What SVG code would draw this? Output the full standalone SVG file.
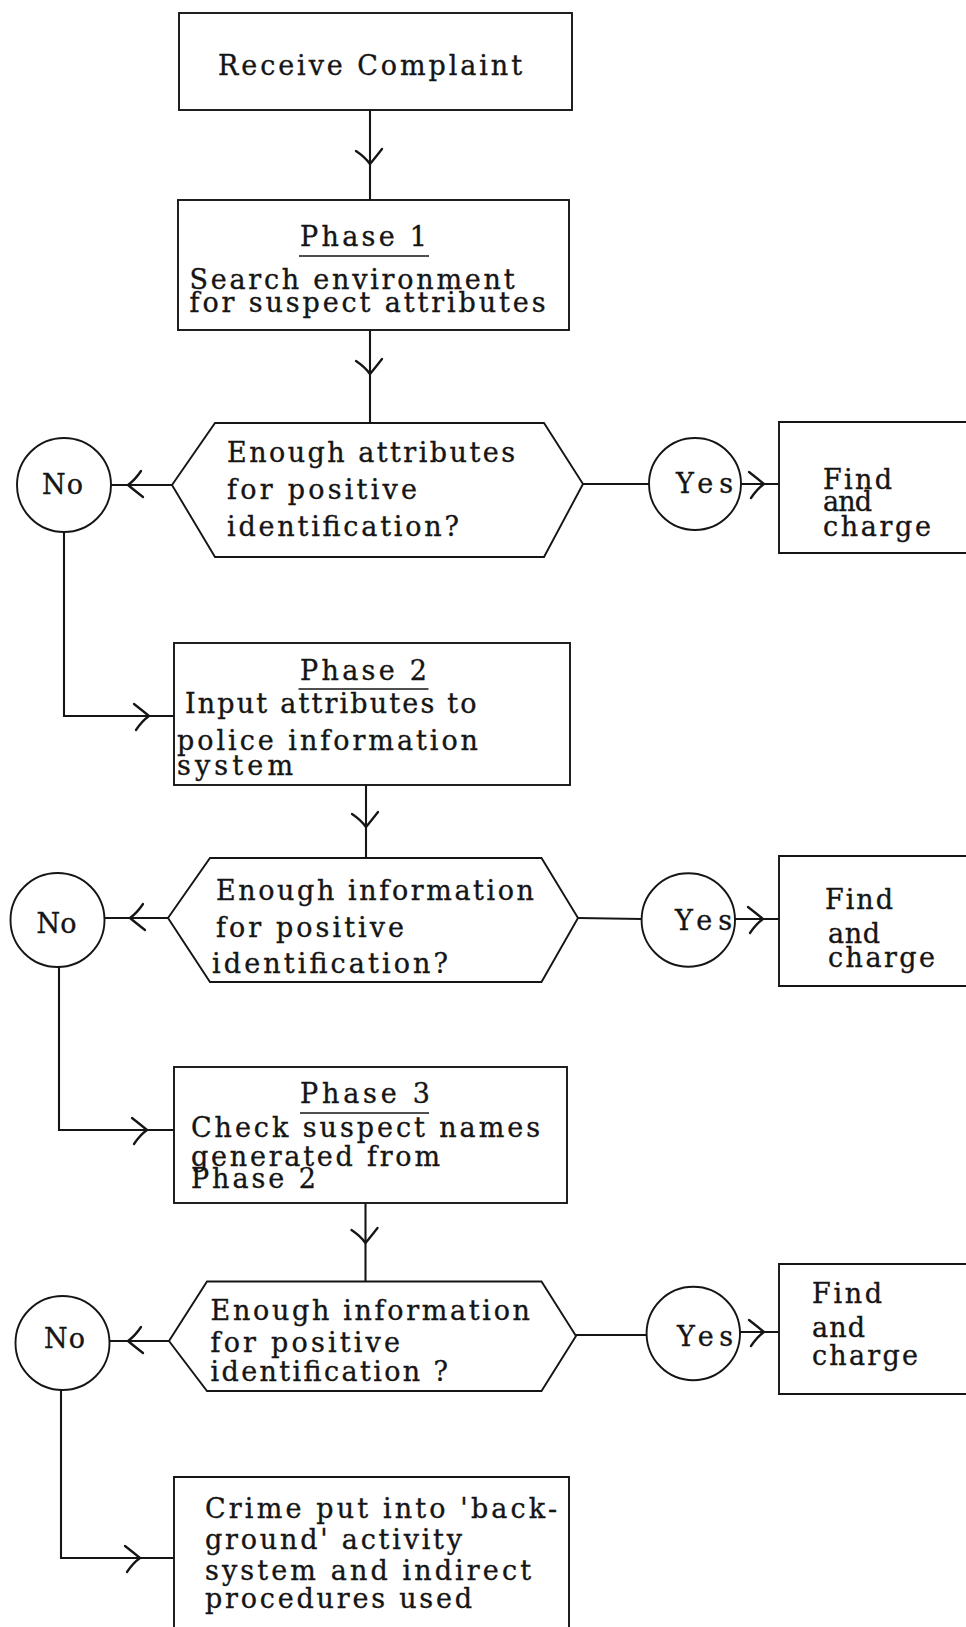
<svg xmlns="http://www.w3.org/2000/svg" width="966" height="1627" viewBox="0 0 966 1627">
<style>
.bx{fill:none;stroke:#151515;stroke-width:1.9}
.ln{fill:none;stroke:#151515;stroke-width:2.1}
.ah{fill:none;stroke:#151515;stroke-width:2.3;stroke-linecap:round}
.ul{stroke:#151515;stroke-width:1.7}
text{font-family:"DejaVu Serif","Liberation Serif",serif;font-size:27px;fill:#151515;stroke:#151515;stroke-width:0.35}
</style>
<defs>
<path id="ah" class="ah" d="M-15,-12 Q-6,-5 0,0 Q-7,5 -13,14"/>
</defs>
<rect width="966" height="1627" fill="#fff"/>

<g id="connectors">
  <line class="ln" x1="370" y1="110" x2="370" y2="200"/>
  <use href="#ah" transform="translate(370,164) rotate(90)"/>
  <line class="ln" x1="370" y1="330" x2="370" y2="423"/>
  <use href="#ah" transform="translate(370,374) rotate(90)"/>
  <line class="ln" x1="172" y1="485" x2="111" y2="485"/>
  <use href="#ah" transform="translate(128,485) rotate(180)"/>
  <line class="ln" x1="583" y1="484" x2="649" y2="484"/>
  <line class="ln" x1="741" y1="484" x2="779" y2="484"/>
  <use href="#ah" transform="translate(764,484)"/>
  <polyline class="ln" points="64,532 64,716 174,716"/>
  <use href="#ah" transform="translate(149,716)"/>
  <line class="ln" x1="366" y1="785" x2="366" y2="858"/>
  <use href="#ah" transform="translate(366,827) rotate(90)"/>
  <line class="ln" x1="168" y1="918" x2="105" y2="918"/>
  <use href="#ah" transform="translate(130,918) rotate(180)"/>
  <line class="ln" x1="578" y1="918" x2="642" y2="919"/>
  <line class="ln" x1="735" y1="919" x2="779" y2="919"/>
  <use href="#ah" transform="translate(763,919)"/>
  <polyline class="ln" points="59,967 59,1130 174,1130"/>
  <use href="#ah" transform="translate(147,1130)"/>
  <line class="ln" x1="365.5" y1="1203" x2="365.5" y2="1281.5"/>
  <use href="#ah" transform="translate(365.5,1243) rotate(90)"/>
  <line class="ln" x1="169" y1="1341" x2="110" y2="1341"/>
  <use href="#ah" transform="translate(128,1341) rotate(180)"/>
  <line class="ln" x1="576" y1="1335" x2="647" y2="1335"/>
  <line class="ln" x1="740" y1="1332" x2="779" y2="1332"/>
  <use href="#ah" transform="translate(764,1332)"/>
  <polyline class="ln" points="61,1390 61,1558 174,1558"/>
  <use href="#ah" transform="translate(140,1558)"/>
</g>

<g id="receive">
  <rect class="bx" x="179" y="13" width="393" height="97"/>
  <text x="218" y="75" textLength="304" lengthAdjust="spacing">Receive Complaint</text>
</g>

<g id="phase1">
  <rect class="bx" x="178" y="200" width="391" height="130"/>
  <text x="300" y="246" textLength="127" lengthAdjust="spacing">Phase 1</text>
  <line class="ul" x1="299" y1="256" x2="429" y2="256"/>
  <text x="189.5" y="289" textLength="325" lengthAdjust="spacing">Search environment</text>
  <text x="189.5" y="312" textLength="356" lengthAdjust="spacing">for suspect attributes</text>
</g>

<g id="decision1">
  <polygon class="bx" points="215,423 544,423 583,484 544,557 215,557 172,485"/>
  <text x="227" y="462" textLength="288" lengthAdjust="spacing">Enough attributes</text>
  <text x="227" y="499" textLength="190" lengthAdjust="spacing">for positive</text>
  <text x="227" y="536" textLength="232" lengthAdjust="spacing">identification?</text>
</g>

<g id="no1">
  <circle class="bx" cx="64" cy="485" r="47"/>
  <text x="42" y="494" textLength="41" lengthAdjust="spacing">No</text>
</g>

<g id="yes1">
  <circle class="bx" cx="695" cy="484" r="46"/>
  <text x="676" y="493" textLength="57" lengthAdjust="spacing">Yes</text>
</g>

<g id="find1">
  <path class="bx" d="M966,422 H779 V553 H966"/>
  <text x="823" y="489" textLength="69" lengthAdjust="spacing">Find</text>
  <text x="823" y="511" textLength="49" lengthAdjust="spacing">and</text>
  <text x="823" y="536" textLength="108" lengthAdjust="spacing">charge</text>
</g>

<g id="phase2">
  <rect class="bx" x="174" y="643" width="396" height="142"/>
  <text x="300" y="680" textLength="127" lengthAdjust="spacing">Phase 2</text>
  <line class="ul" x1="298.5" y1="689" x2="428.5" y2="689"/>
  <text x="185" y="713" textLength="291.5" lengthAdjust="spacing">Input attributes to</text>
  <text x="177" y="750" textLength="301" lengthAdjust="spacing">police information</text>
  <text x="177" y="775" textLength="116" lengthAdjust="spacing">system</text>
</g>

<g id="decision2">
  <polygon class="bx" points="210,858 541.5,858 578,918 541.5,982 210,982 168,918"/>
  <text x="216" y="900" textLength="318" lengthAdjust="spacing">Enough information</text>
  <text x="216" y="937" textLength="188" lengthAdjust="spacing">for positive</text>
  <text x="212" y="973" textLength="236" lengthAdjust="spacing">identification?</text>
</g>

<g id="no2">
  <circle class="bx" cx="57.5" cy="920" r="47"/>
  <text x="36.5" y="933" textLength="40" lengthAdjust="spacing">No</text>
</g>

<g id="yes2">
  <circle class="bx" cx="688.3" cy="920" r="46.7"/>
  <text x="675" y="930" textLength="57" lengthAdjust="spacing">Yes</text>
</g>

<g id="find2">
  <path class="bx" d="M966,856 H779 V986 H966"/>
  <text x="825" y="909" textLength="68" lengthAdjust="spacing">Find</text>
  <text x="828" y="943" textLength="52" lengthAdjust="spacing">and</text>
  <text x="828" y="967" textLength="107" lengthAdjust="spacing">charge</text>
</g>

<g id="phase3">
  <rect class="bx" x="174" y="1067" width="393" height="136"/>
  <text x="300" y="1103" textLength="130" lengthAdjust="spacing">Phase 3</text>
  <line class="ul" x1="300" y1="1113" x2="429" y2="1113"/>
  <text x="191" y="1137" textLength="349" lengthAdjust="spacing">Check suspect names</text>
  <text x="191" y="1166" textLength="249" lengthAdjust="spacing">generated from</text>
  <text x="191" y="1188" textLength="125" lengthAdjust="spacing">Phase 2</text>
</g>

<g id="decision3">
  <polygon class="bx" points="207,1281.5 541.5,1281.5 576,1336 541.5,1391 207,1391 169,1341"/>
  <text x="210.5" y="1320" textLength="319.5" lengthAdjust="spacing">Enough information</text>
  <text x="210.5" y="1352" textLength="189.5" lengthAdjust="spacing">for positive</text>
  <text x="210.5" y="1381" textLength="237.5" lengthAdjust="spacing">identification ?</text>
</g>

<g id="no3">
  <circle class="bx" cx="62.5" cy="1343" r="47"/>
  <text x="44" y="1348" textLength="41" lengthAdjust="spacing">No</text>
</g>

<g id="yes3">
  <circle class="bx" cx="693.3" cy="1333.5" r="46.7"/>
  <text x="677" y="1346" textLength="56" lengthAdjust="spacing">Yes</text>
</g>

<g id="find3">
  <path class="bx" d="M966,1264 H779 V1394 H966"/>
  <text x="812" y="1303" textLength="70" lengthAdjust="spacing">Find</text>
  <text x="812" y="1337" textLength="53" lengthAdjust="spacing">and</text>
  <text x="812" y="1365" textLength="106" lengthAdjust="spacing">charge</text>
</g>

<g id="background">
  <path class="bx" d="M174,1640 V1477 H569 V1640"/>
  <text x="205" y="1518" textLength="352" lengthAdjust="spacing">Crime put into 'back-</text>
  <text x="205" y="1549" textLength="257" lengthAdjust="spacing">ground' activity</text>
  <text x="205" y="1580" textLength="326" lengthAdjust="spacing">system and indirect</text>
  <text x="205" y="1608" textLength="267" lengthAdjust="spacing">procedures used</text>
</g>
</svg>
